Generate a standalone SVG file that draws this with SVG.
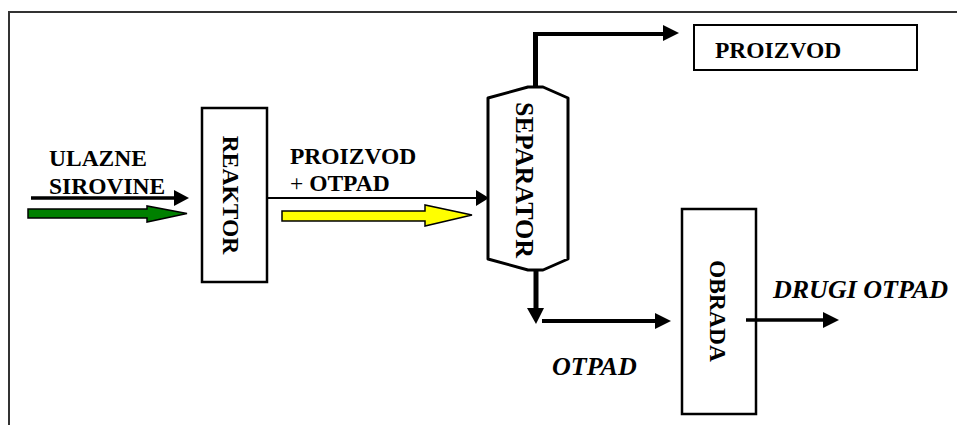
<svg xmlns="http://www.w3.org/2000/svg" width="957" height="425" viewBox="0 0 957 425">
<style>
.t{font-family:"Liberation Serif","Times New Roman",serif;font-weight:bold;font-size:23.5px;fill:#000}
.i{font-family:"Liberation Serif","Times New Roman",serif;font-weight:bold;font-style:italic;font-size:26px;fill:#000}
.box{fill:#fff;stroke:#000;stroke-width:2.5}
.ln{stroke:#000;fill:none}
.hd{fill:#000;stroke:none}
</style>
<rect width="957" height="425" fill="#fff"/>
<path d="M9,425 V12 H957" fill="none" stroke="#333" stroke-width="2"/>
<g id="ulazne">
<text class="t" x="49" y="166">ULAZNE</text>
<text class="t" x="49" y="194">SIROVINE</text>
</g>
<g id="reaktor">
<rect class="box" x="202" y="108" width="65" height="174"/>
<text class="t" text-anchor="middle" transform="translate(223,195) rotate(90)">REAKTOR</text>
</g>
<g id="separator">
<path d="M488,98 L528,87 L543,87 L568,98 L568,259 L543,270 L528,270 L488,259 Z" fill="#fff" stroke="#000" stroke-width="3" stroke-linejoin="round"/>
<text class="t" style="font-size:26px" text-anchor="middle" transform="translate(516,180) rotate(90)">SEPARATOR</text>
</g>
<g id="proizvod">
<rect x="694" y="25" width="223" height="45" fill="#fff" stroke="#000" stroke-width="2"/>
<text class="t" x="715" y="58">PROIZVOD</text>
</g>
<g id="obrada">
<rect class="box" x="682" y="209" width="74" height="205"/>
<text class="t" text-anchor="middle" transform="translate(710,311) rotate(90)">OBRADA</text>
</g>
<g id="labels">
<text class="t" x="290" y="164">PROIZVOD</text>
<text class="t" x="290" y="191"><tspan font-weight="normal">+</tspan> OTPAD</text>
<text class="i" x="552" y="375">OTPAD</text>
<text class="i" x="773" y="298">DRUGI OTPAD</text>
</g>
<g id="connectors">
<line class="ln" x1="31" y1="198" x2="176" y2="198" stroke-width="3.5"/>
<polygon class="hd" points="174,190 189,198 174,206"/>
<polygon points="28,209 147,209 147,206 187,213.5 147,222 147,218 28,218" fill="#008000" stroke="#000" stroke-width="1.5"/>
<line class="ln" x1="267" y1="198" x2="478" y2="198" stroke-width="2"/>
<polygon class="hd" points="476,190 489,198 476,206"/>
<polygon points="282,211 425,211 425,205 472,215 425,226 425,221 282,221" fill="#ffff00" stroke="#000" stroke-width="1.5"/>
<line class="ln" x1="535.5" y1="88" x2="535.5" y2="32" stroke-width="5"/>
<line class="ln" x1="533" y1="34" x2="665" y2="34" stroke-width="4"/>
<polygon class="hd" points="663,25 679,33 663,41"/>
<line class="ln" x1="536" y1="270" x2="536" y2="310" stroke-width="5"/>
<polygon class="hd" points="527,308 536,324 544,308"/>
<line class="ln" x1="542" y1="321" x2="657" y2="321" stroke-width="4"/>
<polygon class="hd" points="655,313 671,321 655,329"/>
<line class="ln" x1="746" y1="320" x2="825" y2="320" stroke-width="3.5"/>
<polygon class="hd" points="823,312 839,320 823,328"/>
</g>
</svg>
